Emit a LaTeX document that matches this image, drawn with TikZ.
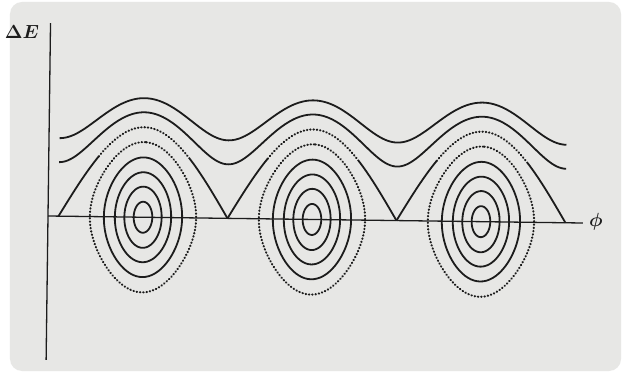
\documentclass[tikz,border=0pt]{standalone}
\usepackage{bm}
\usepackage{fix-cm}
\definecolor{paper}{RGB}{231,231,229}
\definecolor{ink}{RGB}{28,28,28}
\begin{document}
\begin{tikzpicture}[x=1pt,y=1pt,
  curve/.style={ink, line width=1.8pt, line join=round},
  dots/.style={ink, line width=2.1pt, line cap=round, dash pattern=on 0.5pt off 2.8pt},
  axisline/.style={ink, line width=1.3pt},
  lab/.style={font=\fontsize{19}{22}\selectfont, inner sep=0pt, text=ink}]
\useasboundingbox (-48,-158) rectangle (575,216);
\fill[white] (-48,-158) rectangle (575,216);
\fill[paper, rounded corners=12pt] (-38,-155) rectangle (573,214);
\begin{scope}[rotate=-0.75]
  \coordinate (O) at (0,0);
  \coordinate (ytop) at (0,193);
  \coordinate (ybot) at (0,-144);
  \coordinate (xend) at (535,0);
  \draw[axisline] (ybot) -- (ytop);
  \draw[axisline] (O) -- (xend);
  % rotating orbits
  \foreach \kk in {0.751,0.36}{
    \draw[curve] plot[smooth, domain=-90:450, samples=217, variable=\t]
      ({95+0.93889*\t},{90*sqrt(cos(\t)*cos(\t)+\kk)});
  }
  \foreach \c in {95,264,433}{
    % separatrix (upper half)
    \draw[curve] plot[smooth, domain=-90:-48, samples=17, variable=\t]
      ({\c+0.93889*\t},{90*cos(\t)});
    \draw[curve] plot[smooth, domain=48:90, samples=17, variable=\t]
      ({\c+0.93889*\t},{90*cos(\t)});
    \draw[dots] plot[smooth, domain=-48:48, samples=41, variable=\t]
      ({\c+0.93889*\t},{90*cos(\t)});
    % outer closed orbit (dotted)
    \draw[dots] plot[smooth cycle, domain=0:357, samples=120, variable=\t]
      ({\c+0.93889*asin(0.835*sin(\t))},{75.15*cos(\t)});
    % inner closed orbits
    \foreach \s in {0.665,0.5,0.34,0.172}{
      \draw[curve] plot[smooth cycle, domain=0:355, samples=72, variable=\t]
        ({\c+0.93889*asin(\s*sin(\t))},{90*\s*cos(\t)});
    }
  }
\end{scope}
\node[lab] (dE) at (-26,184) {$\bm{\Delta E}$};
\node[lab] (phi) at (548,-6) {$\bm{\phi}$};
\end{tikzpicture}
\end{document}
